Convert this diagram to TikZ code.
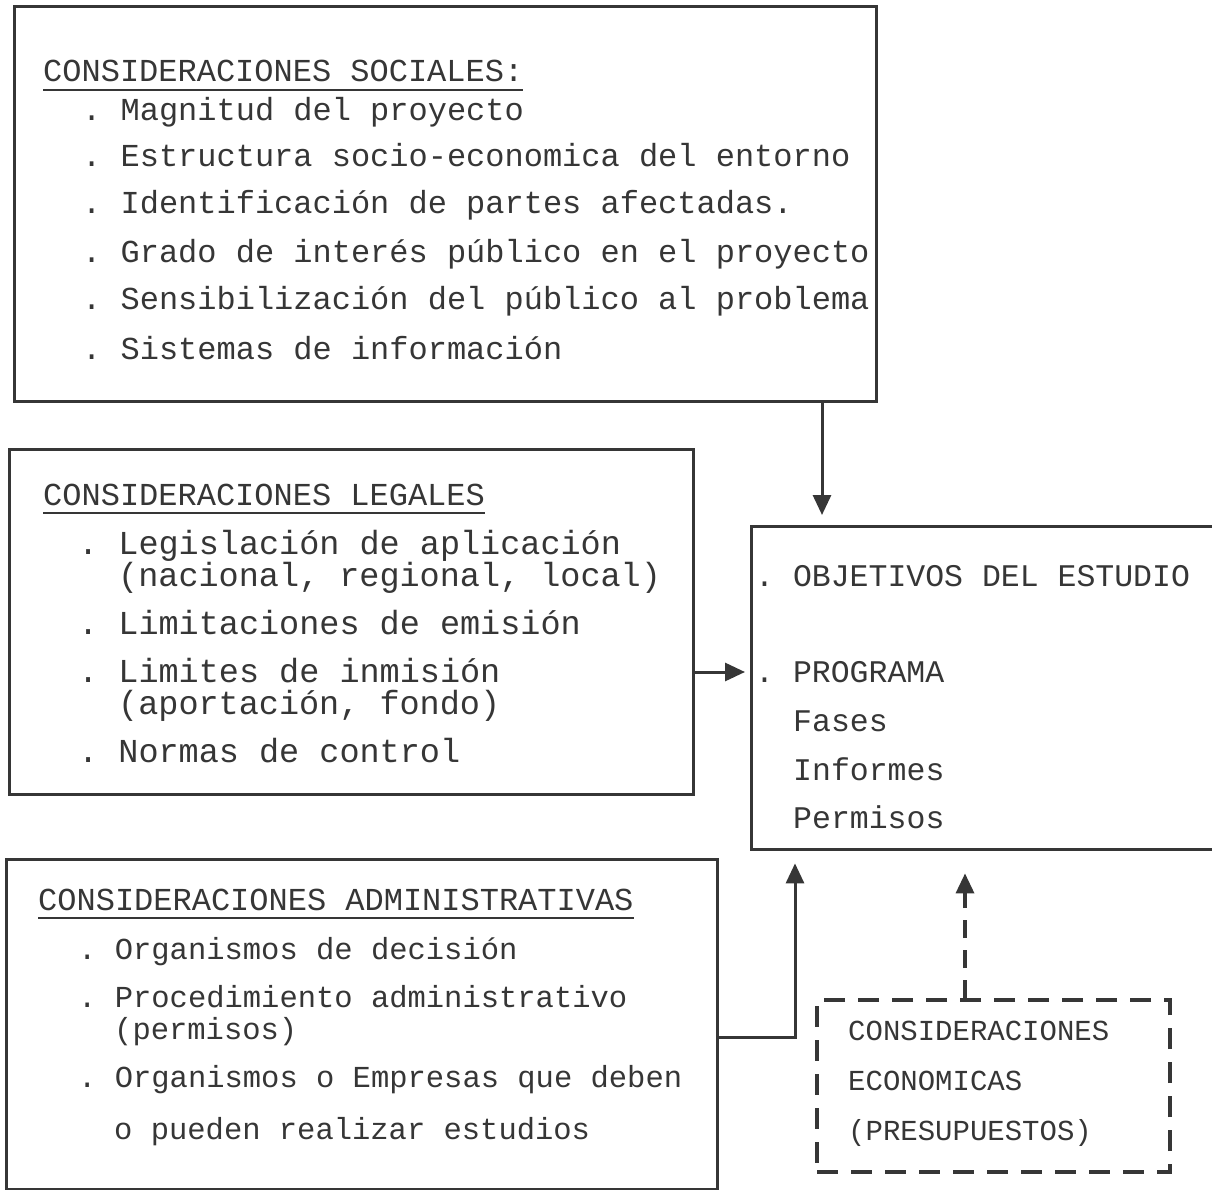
\documentclass[tikz,border=0pt]{standalone}
\usepackage{fontspec}
\setmonofont{Liberation Mono}
\usetikzlibrary{arrows.meta}
\definecolor{ink}{HTML}{363636}
\begin{document}
\begin{tikzpicture}[x=1pt,y=-1pt,
  box/.style={draw=ink, line width=3.4pt, inner sep=0pt, anchor=north west},
  dbox/.style={box, line width=4.2pt, dash pattern=on 21pt off 13pt},
  txt/.style={font=\ttfamily\fontsize{#1}{#1}\selectfont, text=ink, anchor=base west, inner sep=0pt},
  txt/.default=32,
  uline/.style={draw=ink, line width=2.2pt},
  arr/.style={draw=ink, line width=3pt, -{Triangle[length=20pt,width=18pt]}},
  darr/.style={arr, line width=3.4pt, dash pattern=on 18pt off 12pt}
]
\useasboundingbox (0,0) rectangle (1212,1190);
\fill[white] (0,0) rectangle (1212,1190);

% boxes
\node[box, minimum width=862pt, minimum height=395pt] (social) at (13,5) {};
\node[box, minimum width=684pt, minimum height=345pt] (legal) at (8,448) {};
\node[box, minimum width=480pt, minimum height=323pt] (obj) at (750,525) {};
\node[box, minimum width=711pt, minimum height=330pt] (admin) at (5,858) {};
\node[dbox, minimum width=353pt, minimum height=172pt] (econ) at (815,998) {};

% social texts
\node[txt] (st) at (43,82) {CONSIDERACIONES SOCIALES:};
\draw[uline] ([yshift=-8pt]st.base west) -- ([yshift=-8pt]st.base east);
\node[txt] (s1) at (82,121) {. Magnitud del proyecto};
\node[txt] (s2) at (82,167) {. Estructura socio-economica del entorno};
\node[txt] (s3) at (82,214) {. Identificación de partes afectadas.};
\node[txt] (s4) at (82,262) {. Grado de interés público en el proyecto};
\node[txt] (s5) at (82,309) {. Sensibilización del público al problema};
\node[txt] (s6) at (82,359) {. Sistemas de información};

% legal texts
\node[txt] (lt) at (43,505) {CONSIDERACIONES LEGALES};
\draw[uline] ([yshift=-8pt]lt.base west) -- ([yshift=-8pt]lt.base east);
\node[txt=33.5] (l1) at (78,554) {. Legislación de aplicación};
\node[txt=33.5] (l1b) at (118,586) {(nacional, regional, local)};
\node[txt=33.5] (l2) at (78,634) {. Limitaciones de emisión};
\node[txt=33.5] (l3) at (78,682) {. Limites de inmisión};
\node[txt=33.5] (l3b) at (118,714) {(aportación, fondo)};
\node[txt=33.5] (l4) at (78,762) {. Normas de control};

% objectives texts
\node[txt=31.5] (o1) at (755,586) {. OBJETIVOS DEL ESTUDIO};
\node[txt=31.5] (o2) at (755,682) {. PROGRAMA};
\node[txt=31.5] (o3) at (793,731) {Fases};
\node[txt=31.5] (o4) at (793,780) {Informes};
\node[txt=31.5] (o5) at (793,828) {Permisos};

% admin texts
\node[txt] (at) at (38,910) {CONSIDERACIONES ADMINISTRATIVAS};
\draw[uline] ([yshift=-8pt]at.base west) -- ([yshift=-8pt]at.base east);
\node[txt=30.5] (a1) at (78,959) {. Organismos de decisión};
\node[txt=30.5] (a2) at (78,1007) {. Procedimiento administrativo};
\node[txt=30.5] (a2b) at (114,1039) {(permisos)};
\node[txt=30.5] (a3) at (78,1087) {. Organismos o Empresas que deben};
\node[txt=30.5] (a3b) at (114,1139) {o pueden realizar estudios};

% econ texts
\node[txt=29] (e1) at (848,1040) {CONSIDERACIONES};
\node[txt=29] (e2) at (848,1090) {ECONOMICAS};
\node[txt=29] (e3) at (848,1140) {(PRESUPUESTOS)};

% connectors
\coordinate (c1) at (822,0);
\coordinate (c2) at (0,672);
\coordinate (c3) at (0,1037);
\coordinate (c4) at (795,0);
\coordinate (c5) at (965,0);
\draw[arr, shorten >=10pt] (social.south -| c1) -- (obj.north -| c1);
\draw[arr, shorten >=5pt] (legal.east |- c2) -- (obj.west |- c2);
\draw[arr, shorten >=12pt] (admin.east |- c3) -| (obj.south -| c4);
\draw[darr, shorten >=22pt] (econ.north -| c5) -- (obj.south -| c5);
\end{tikzpicture}
\end{document}
